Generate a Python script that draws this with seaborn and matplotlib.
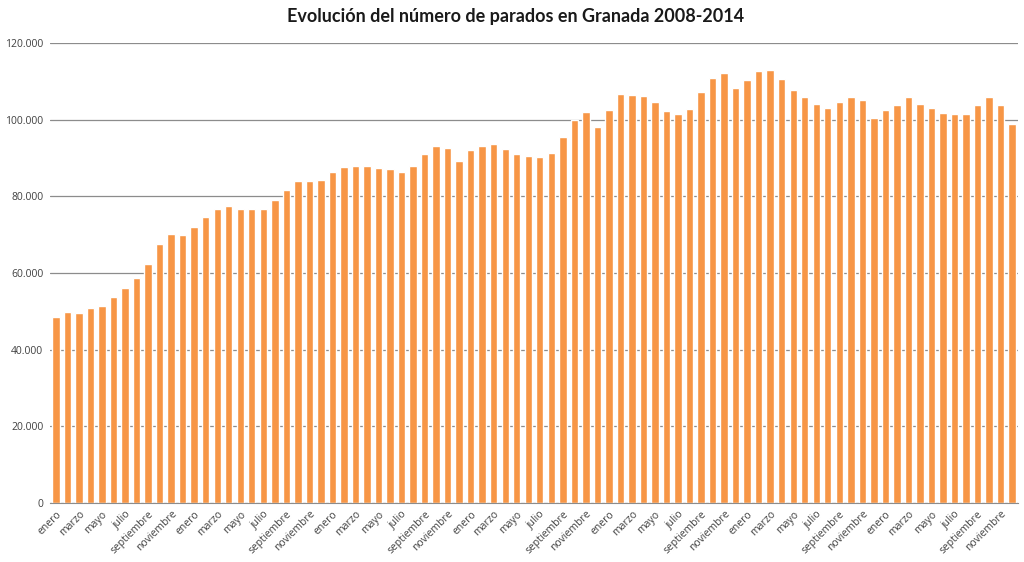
import numpy as np
import pandas as pd
import matplotlib.pyplot as plt
import seaborn as sns
from matplotlib.ticker import FuncFormatter

# ------------------------------
# Datos: parados por mes en Granada
# ------------------------------
meses = ["enero", "febrero", "marzo", "abril", "mayo", "junio",
         "julio", "agosto", "septiembre", "octubre", "noviembre", "diciembre"]
anios = [2008, 2009, 2010, 2011, 2012, 2013, 2014]

parados_2008 = [48600, 49900, 49600, 50800, 51300, 53700, 56000, 58800, 62400, 67600, 70200, 69800]
parados_2009 = [72000, 74700, 76600, 77500, 76800, 76800, 76600, 79000, 81700, 84000, 84000, 84200]
parados_2010 = [86400, 87700, 87800, 88000, 87500, 87000, 86400, 88000, 91000, 93100, 92500, 89300]
parados_2011 = [92100, 93000, 93700, 92300, 91000, 90500, 90300, 91400, 95400, 100000, 102000, 98200]
parados_2012 = [102600, 106700, 106400, 106200, 104500, 102200, 101600, 102800, 107100, 110900, 112200, 108200]
parados_2013 = [110300, 112800, 113000, 110700, 107700, 106000, 104100, 103000, 104500, 105800, 105000, 100400]
parados_2014 = [102400, 103900, 105800, 104100, 103000, 101800, 101600, 101600, 103700, 105800, 103900, 98800]

valores = (parados_2008 + parados_2009 + parados_2010 + parados_2011
           + parados_2012 + parados_2013 + parados_2014)
etiquetas = [f"{m} {a}" for a in anios for m in meses]

df = pd.DataFrame({"mes": etiquetas, "parados": valores})

# ------------------------------
# Estilo
# ------------------------------
sns.set_style("white")
plt.rcParams['font.family'] = ['Open Sans', 'DejaVu Sans']

fig = plt.figure(figsize=(10.24, 5.62), dpi=100)
ax = fig.add_axes([0.049, 0.105, 0.945, 0.8185])

sns.barplot(data=df, x="mes", y="parados", color="#F79646", saturation=1,
            width=0.64, ax=ax)

ax.set_ylim(0, 120000)
ax.set_yticks(np.arange(0, 120001, 20000))
ax.yaxis.set_major_formatter(FuncFormatter(lambda v, p: f"{int(v):,}".replace(",", ".")))
ax.set_xlim(-0.5, len(valores) - 0.5)

# etiquetas del eje x: un mes sí, otro no
pos = np.arange(0, len(valores), 2)
ax.set_xticks(pos)
ax.set_xticklabels([etiquetas[i].split()[0] for i in pos], rotation=45,
                   ha="right", rotation_mode="anchor", fontsize=7.5, color="#404040")
ax.tick_params(axis='y', labelsize=7.5, colors="#404040", length=0, pad=5)
ax.tick_params(axis='x', length=0, pad=4)

ax.grid(axis='y', color="#8c8c8c", linewidth=0.9)
ax.set_axisbelow(True)
for s in ["top", "right", "left"]:
    ax.spines[s].set_visible(False)
ax.spines["bottom"].set_color("#8c8c8c")
ax.set_xlabel("")
ax.set_ylabel("")

fig.suptitle("Evolución del número de parados en Granada 2008-2014",
             x=0.503, y=0.985, fontsize=13, fontweight='bold', color="#1a1a1a",
             family=['Lato', 'DejaVu Sans'])

plt.savefig("out.png", dpi=100)
plt.close()
